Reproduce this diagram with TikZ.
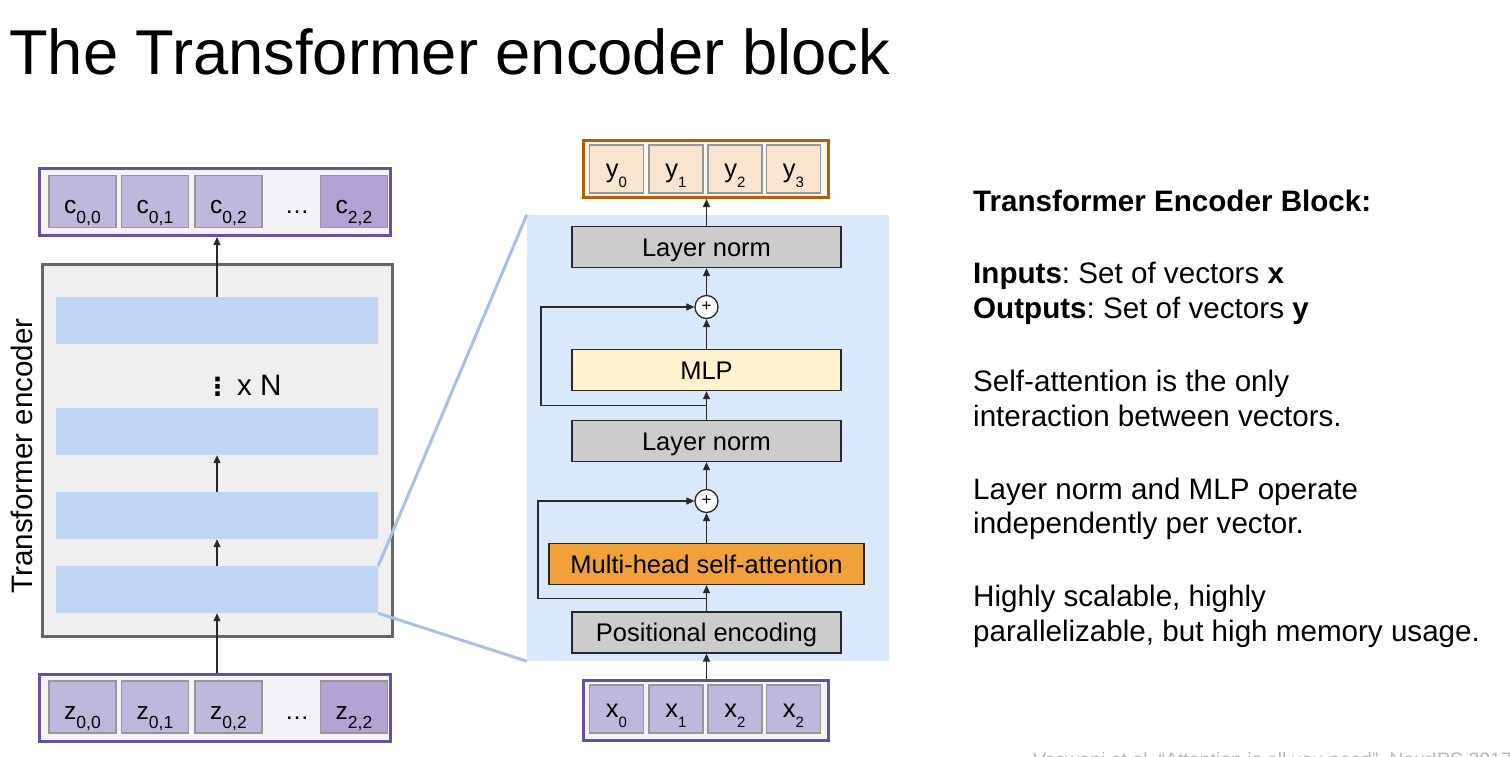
\documentclass[tikz,border=0pt]{standalone}
\usepackage{fontspec}
\setmainfont{Liberation Sans}
\newfontfamily\symfont{DejaVu Sans}
\usepackage{tikz}
\usetikzlibrary{arrows.meta, positioning, calc}
\frenchspacing
\definecolor{rowpurple}{RGB}{103, 78, 167}
\definecolor{rowbg}{RGB}{244, 243, 247}
\definecolor{cellpurple}{RGB}{192, 183, 220}
\definecolor{celldark}{RGB}{177, 164, 212}
\definecolor{cellgray}{RGB}{150, 150, 150}
\definecolor{encfill}{RGB}{239, 239, 239}
\definecolor{encdraw}{RGB}{102, 102, 102}
\definecolor{barblue}{RGB}{192, 213, 243}
\definecolor{panelblue}{RGB}{218, 232, 252}
\definecolor{zoomblue}{RGB}{164, 194, 232}
\definecolor{normgray}{RGB}{204, 204, 204}
\definecolor{mlpyellow}{RGB}{255, 242, 204}
\definecolor{attnorange}{RGB}{241, 161, 58}
\definecolor{ybrown}{RGB}{180, 95, 6}
\definecolor{ybg}{RGB}{253, 246, 239}
\definecolor{ycell}{RGB}{249, 228, 208}
\definecolor{arrowdark}{RGB}{40, 40, 40}
\definecolor{citegray}{RGB}{183, 183, 183}
\newcommand{\bodyfont}{\fontsize{29.6}{35}\selectfont}
\newcommand{\lsub}[2]{#1\raisebox{-9.5pt}{\fontsize{17.5}{17.5}\selectfont #2}}
\newcommand{\msub}[2]{#1\raisebox{-10.5pt}{\fontsize{15}{15}\selectfont #2}}

\begin{document}
\begin{tikzpicture}[x=1pt, y=-1pt,
  every node/.style={font=\fontsize{25.5}{30}\selectfont},
  rowbox/.style={draw=rowpurple, fill=rowbg, line width=3pt, inner sep=0pt},
  lcell/.style={draw=cellgray, fill=cellpurple, line width=1.3pt, inner sep=0pt,
    minimum width=67pt, text height=38pt, text depth=14pt,
    font=\fontsize{24.5}{28}\selectfont},
  mcell/.style={lcell, minimum width=54pt, text height=32pt, text depth=16pt,
    font=\fontsize{25.5}{28}\selectfont},
  dotsnode/.style={inner sep=0pt, text height=38pt, text depth=14pt,
    font=\fontsize{24.5}{28}\selectfont},
  bar/.style={fill=barblue, minimum width=322pt, minimum height=47pt, inner sep=0pt},
  normbox/.style={draw=arrowdark, fill=normgray, line width=1.3pt, inner ysep=0pt,
    minimum width=269pt, text height=29.5pt, text depth=11.5pt},
  sumnode/.style={draw=arrowdark, fill=white, circle, line width=1.3pt, inner sep=0pt,
    minimum size=23pt, font=\fontsize{17}{17}\selectfont},
  arr/.style={-{Triangle[length=8pt, width=7pt]}, draw=arrowdark, line width=1.2pt},
  zoomline/.style={draw=zoomblue, line width=3pt}]
  \useasboundingbox (0,0) rectangle (1510,756);
  \clip (0,0) rectangle (1510,756);

  % Title
  \node[anchor=base west, inner sep=0pt, font=\fontsize{63.3}{70}\selectfont]
    (title) at (9,74) {The Transformer encoder block};

  % Encoder stack (left)
  \node[rowbox, minimum width=351pt, minimum height=67pt] (crow) at (215,202) {};
  \foreach \xx/\ss [count=\i] in {82.5/{0,0}, 155/{0,1}, 228.5/{0,2}}
    \node[lcell] (c\i) at (\xx,201.5) {\lsub{c}{\ss}};
  \node[dotsnode] (cdots) at (297,201.5) {…};
  \node[lcell, fill=celldark] (c4) at (354,201.5) {\lsub{c}{2,2}};

  \node[draw=encdraw, fill=encfill, line width=3pt, inner sep=0pt,
    minimum width=350pt, minimum height=372pt] (enc) at (217.5,450.5) {};
  \foreach \yy [count=\i] in {320.5, 431.5, 515.5, 589.5}
    \node[bar] (bar\i) at (217,\yy) {};
  \node[anchor=base west, inner sep=0pt, font=\bodyfont] (repeat) at (205,395)
    {{\symfont\fontsize{25}{25}\selectfont\bfseries ⋮}\hspace{7pt}x N};
  \node[rotate=90, font=\bodyfont] (enclabel) at (22,456) {Transformer encoder};

  \node[rowbox, minimum width=351pt, minimum height=67pt] (zrow) at (215,708) {};
  \foreach \xx/\ss [count=\i] in {82.5/{0,0}, 155/{0,1}, 228.5/{0,2}}
    \node[lcell] (z\i) at (\xx,707) {\lsub{z}{\ss}};
  \node[dotsnode] (zdots) at (297,707) {…};
  \node[lcell, fill=celldark] (z4) at (354,707) {\lsub{z}{2,2}};

  \draw[arr] (zrow.north -| bar4.south) -- (bar4.south);
  \draw[arr] (bar4) -- (bar3);
  \draw[arr] (bar3) -- (bar2);
  \draw[arr] (bar1.north) -- (bar1.north |- crow.south);

  % Encoder block (middle)
  \node[fill=panelblue, inner sep=0pt, minimum width=362pt, minimum height=446pt]
    (panel) at (708,438) {};
  \draw[zoomline] (bar4.north east) -- (panel.north west);
  \draw[zoomline] (bar4.south east) -- (panel.south west);

  \node[normbox] (ln1) at (706.5,247) {Layer norm};
  \node[sumnode] (plus1) at (706.5,307) {+};
  \node[normbox, fill=mlpyellow] (mlp) at (706.5,370) {MLP};
  \node[normbox] (ln2) at (706.5,441) {Layer norm};
  \node[sumnode] (plus2) at (706.5,501) {+};
  \node[normbox, fill=attnorange, minimum width=315pt] (mhsa) at (706.5,564)
    {Multi-head self-attention};
  \node[normbox] (pe) at (706.5,632.5) {Positional encoding};

  \node[rowbox, draw=ybrown, fill=ybg, minimum width=245pt, minimum height=57pt]
    (yrow) at (706,169) {};
  \foreach \xx [count=\i from 0] in {616.5, 676, 735, 793.5}
    \node[mcell, fill=ycell] (y\i) at (\xx,169) {\msub{y}{\i}};

  \node[rowbox, minimum width=245pt, minimum height=60pt] (xrow) at (706,710.5) {};
  \foreach \xx/\ss [count=\i] in {616.5/0, 676/1, 735/2, 793.5/2}
    \node[mcell] (x\i) at (\xx,709) {\msub{x}{\ss}};

  \draw[arr] (xrow.north -| pe.south) -- (pe.south);
  \draw[arr] (pe) -- (mhsa);
  \draw[arr] (mhsa) -- (plus2);
  \draw[arr] (plus2) -- (ln2);
  \draw[arr] (ln2) -- (mlp);
  \draw[arr] (mlp) -- (plus1);
  \draw[arr] (plus1) -- (ln1);
  \draw[arr] (ln1.north) -- (ln1.north |- yrow.south);

  % Residual connections
  \coordinate (skipa) at ($(pe.north)!0.5!(mhsa.south)$);
  \coordinate (skipb) at ($(ln2.north)!0.5!(mlp.south)$);
  \draw[arr] (skipa) -- ++(-168.5,0) |- (plus2.west);
  \draw[arr] (skipb) -- ++(-165.5,0) |- (plus1.west);

  % Notes (right)
  \node[anchor=base west, inner sep=0pt, font=\bodyfont] (head) at (973,211)
    {\textbf{Transformer Encoder Block:}};
  \foreach \yy/\tx [count=\i] in {
      283/{\textbf{Inputs}: Set of vectors \textbf{x}},
      318/{\textbf{Outputs}: Set of vectors \textbf{y}},
      391/{Self-attention is the only},
      426/{interaction between vectors.},
      499/{Layer norm and MLP operate},
      533/{independently per vector.},
      606/{Highly scalable, highly},
      641/{parallelizable, but high memory usage.}}
    \node[anchor=base west, inner sep=0pt, font=\bodyfont] (note\i) at (973,\yy) {\tx};

  \node[anchor=base west, inner sep=0pt, text=citegray, font=\fontsize{19.5}{22}\selectfont]
    (cite) at (1033,766) {Vaswani et al, “Attention is all you need”, NeurIPS 2017};
\end{tikzpicture}
\end{document}
